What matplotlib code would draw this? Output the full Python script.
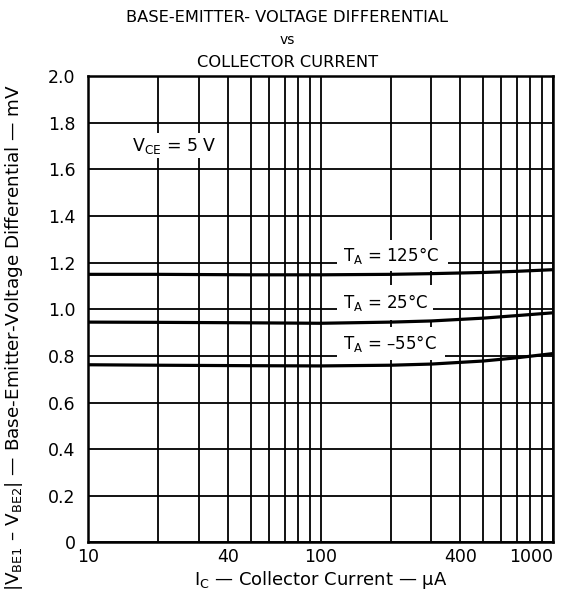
import numpy as np
import matplotlib
matplotlib.use("Agg")
import matplotlib.pyplot as plt
from matplotlib.patches import Rectangle

plt.rcParams['font.family'] = ['DejaVu Sans']

# collector current (uA) and |VBE1 - VBE2| (mV)
ic = [10, 20, 50, 100, 200, 300, 500, 700, 1000]
vd_125 = [1.150, 1.150, 1.148, 1.148, 1.150, 1.153, 1.158, 1.163, 1.170]
vd_25 = [0.945, 0.944, 0.942, 0.940, 0.945, 0.950, 0.962, 0.973, 0.985]
vd_m55 = [0.762, 0.760, 0.758, 0.757, 0.760, 0.765, 0.778, 0.792, 0.810]

curves = [
    (vd_125, "T$_\\mathregular{A}$ = 125°C", 1.23, (118, 353, 1.164, 1.297)),
    (vd_25, "T$_\\mathregular{A}$ = 25°C", 1.03, (118, 305, 0.954, 1.104)),
    (vd_m55, "T$_\\mathregular{A}$ = –55°C", 0.855, (118, 343, 0.782, 0.924)),
]

x_major = [10, 40, 100, 400, 1000]
x_labels = ["10", "40", "100", "400", "1000"]
x_minor = [20, 30, 50, 60, 70, 80, 90, 200, 300, 500, 600, 700, 800, 900]
y_ticks = [0, 0.2, 0.4, 0.6, 0.8, 1.0, 1.2, 1.4, 1.6, 1.8, 2.0]
y_labels = ["0", "0.2", "0.4", "0.6", "0.8", "1.0", "1.2", "1.4", "1.6", "1.8", "2.0"]

fig = plt.figure(figsize=(5.69, 5.94), dpi=100)
ax = fig.add_axes([0.1547, 0.087, 0.8172, 0.7846])

ax.set_xscale("log")
ax.set_xlim(10, 1000)
ax.set_ylim(0, 2.0)
ax.set_xticks(x_major)
ax.set_xticklabels(x_labels)
ax.set_xticks(x_minor, minor=True)
ax.set_xticklabels([], minor=True)
ax.set_yticks(y_ticks)
ax.set_yticklabels(y_labels)
ax.tick_params(which="both", length=0, labelsize=12.5)
ax.tick_params(axis="y", pad=9)
ax.tick_params(axis="x", pad=4)
ax.get_xticklabels()[-1].set_ha("right")
ax.get_xticklabels()[-1].set_x(1000)
ax.set_axisbelow(True)
ax.grid(which="both", axis="x", color="black", lw=1.3)
ax.grid(which="major", axis="y", color="black", lw=1.3)
for s in ax.spines.values():
    s.set_linewidth(1.8)

for vals, label, ytxt, box in curves:
    x0, x1, y0, y1 = box
    ax.add_patch(Rectangle((x0, y0), x1 - x0, y1 - y0, facecolor="white",
                           edgecolor="none", zorder=1))
    ax.plot(ic, vals, color="black", lw=2.3, zorder=3)
    ax.text(125, ytxt, label, fontsize=12, va="center", ha="left", zorder=4)

ax.add_patch(Rectangle((14.4, 1.65), 37.6 - 14.4, 0.107, facecolor="white",
                       edgecolor="none", zorder=1))
ax.text(15.5, 1.70, "V$_\\mathregular{CE}$ = 5 V", fontsize=12.5, va="center",
        ha="left", zorder=4)

ax.set_xlabel("I$_\\mathregular{C}$ — Collector Current — μA", fontsize=13,
              labelpad=2)
ax.set_ylabel("|V$_\\mathregular{BE1}$ – V$_\\mathregular{BE2}$| — Base-Emitter-Voltage Differential — mV",
              fontsize=13.2, labelpad=5)
ax.yaxis.set_label_coords(-0.135, 0.44)

fig.text(0.505, 0.971, "BASE-EMITTER- VOLTAGE DIFFERENTIAL", ha="center",
         va="center", fontsize=11.7)
fig.text(0.505, 0.933, "vs", ha="center", va="center", fontsize=10)
fig.text(0.505, 0.895, "COLLECTOR CURRENT", ha="center", va="center",
         fontsize=11.7)

fig.savefig("out.png", dpi=100)
